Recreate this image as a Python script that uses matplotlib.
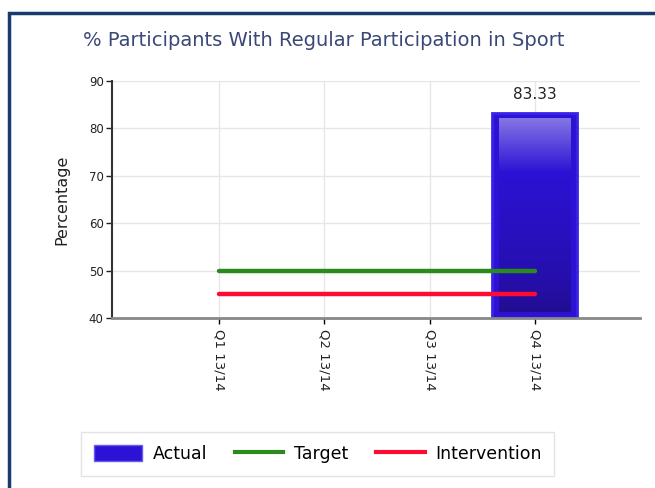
import matplotlib
matplotlib.use("Agg")
import matplotlib.pyplot as plt
import numpy as np
from matplotlib.patches import Rectangle
from matplotlib.lines import Line2D
from matplotlib.patches import Patch

categories = ["Q1 13/14", "Q2 13/14", "Q3 13/14", "Q4 13/14"]
actual = [None, None, None, 83.33]
target = [50, 50, 50, 50]
intervention = [45, 45, 45, 45]
yticks = [40, 50, 60, 70, 80, 90]

fig = plt.figure(figsize=(6.55, 4.88), dpi=100)
fig.patch.set_facecolor("white")

# outer frame
fig.patches.append(Rectangle((9/655, -0.1), 1.2, (488-13)/488 + 0.1,
                             transform=fig.transFigure, fill=False,
                             edgecolor="#173b6c", linewidth=2.5, zorder=0))

ax = fig.add_axes([112/655, 1-318/488, (640-112)/655, (318-81)/488])
x = np.arange(len(categories))

ax.set_yticks(yticks)
ax.set_xticks(x)
ax.set_xticklabels(categories, rotation=270, fontsize=9.5, color="#222222")
ax.tick_params(axis="y", labelsize=8.5, length=4, width=1, colors="#222222", pad=2)
ax.tick_params(axis="x", length=4, width=1, pad=4)
ax.grid(True, color="#e6e6e6", linewidth=1)
ax.set_axisbelow(True)
for s in ["top", "right"]:
    ax.spines[s].set_visible(False)
ax.spines["left"].set_color("#333333")
ax.spines["left"].set_linewidth(1.5)
ax.spines["bottom"].set_color("#888888")
ax.spines["bottom"].set_linewidth(2)

# bars
bx = [i for i, v in enumerate(actual) if v is not None]
bv = [v for v in actual if v is not None]
bars = ax.bar(bx, [v - 40 for v in bv], bottom=40, width=0.81,
              color="#2b12d4", edgecolor="#3b22ea", linewidth=2, zorder=2)
# gradient overlay
for b, v in zip(bars, bv):
    x0, y0 = b.get_x(), b.get_y()
    w, h = b.get_width(), b.get_height()
    cols = np.zeros((256, 1, 4))
    top = np.array([0.52, 0.46, 0.90])
    mid = np.array([0.17, 0.07, 0.83])
    bot = np.array([0.13, 0.05, 0.55])
    for k in range(256):
        t = k / 255.0  # 0 bottom -> 1 top
        if t > 0.72:
            c = mid + (top - mid) * (t - 0.72) / 0.28
        else:
            c = bot + (mid - bot) * (t / 0.72) ** 0.6
        cols[k, 0, :3] = c
        cols[k, 0, 3] = 1
    padx = w * 0.08
    pady = h * 0.03
    ax.imshow(cols, extent=[x0 + padx, x0 + w - padx, y0 + pady, y0 + h - pady],
              origin="lower", aspect="auto", zorder=3, interpolation="bilinear")
    ax.text(x0 + w / 2, y0 + h + 2.2, f"{v:.2f}", ha="center", va="bottom",
            fontsize=11, color="#222222")
ax.set_xlim(-1.02, 4.0)
ax.set_ylim(40, 90)

ax.plot(x, target, color="#2a8a1e", linewidth=3.2, solid_capstyle="round", zorder=4)
ax.plot(x, intervention, color="#ff0a32", linewidth=3.2, solid_capstyle="round", zorder=4)

ax.set_ylabel("Percentage", fontsize=11.5, color="#222222", labelpad=14)

fig.text(83/655, 1-40/488, "% Participants With Regular Participation in Sport",
         fontsize=14, color="#3a4878", ha="left", va="center")

handles = [Patch(facecolor="#2b12d4", edgecolor="#6a5af0", label="Actual"),
           Line2D([0], [0], color="#2a8a1e", linewidth=3, label="Target"),
           Line2D([0], [0], color="#ff0a32", linewidth=3, label="Intervention")]
leg = fig.legend(handles=handles, loc="center", bbox_to_anchor=((75+560)/2/655, 1-454/488),
                 ncol=3, frameon=True, fancybox=False, fontsize=12.5, handlelength=2.8,
                 handleheight=1.0, columnspacing=1.6, borderpad=0.75, handletextpad=0.6)
leg.get_frame().set_edgecolor("#dddddd")
leg.get_frame().set_linewidth(1)

fig.savefig("out.png", dpi=100, facecolor="white")
